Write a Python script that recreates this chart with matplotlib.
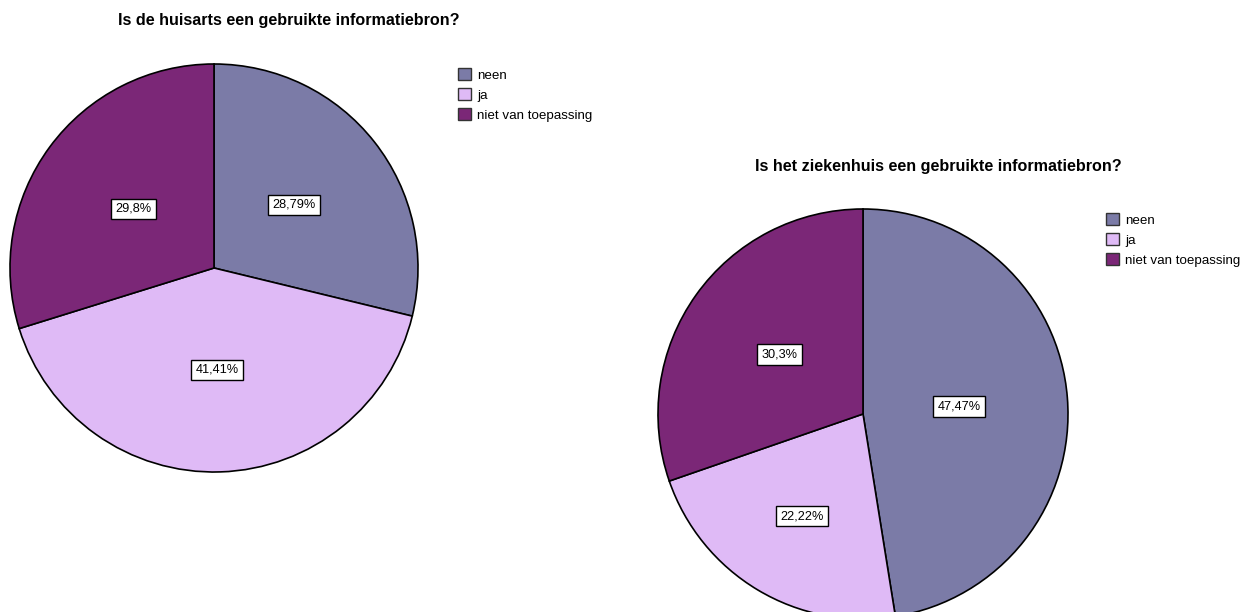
import numpy as np
import matplotlib.pyplot as plt
from matplotlib.patches import Patch

labels = ['neen', 'ja', 'niet van toepassing']
huisarts = [28.79, 41.41, 29.8]
ziekenhuis = [47.47, 22.22, 30.3]
huisarts_txt = ['28,79%', '41,41%', '29,8%']
ziekenhuis_txt = ['47,47%', '22,22%', '30,3%']
titles = ['Is de huisarts een gebruikte informatiebron?',
          'Is het ziekenhuis een gebruikte informatiebron?']

colors = ['#7b7ba7', '#dfbaf6', '#7b2777']

W, H = 1254, 612
plt.rcParams['font.family'] = ['Liberation Sans', 'DejaVu Sans']
fig = plt.figure(figsize=(W/100, H/100), dpi=100)


def px_axes(cx, cy, r):
    # axes box in pixel coords (y measured from top)
    return fig.add_axes([(cx - r)/W, (H - cy - r)/H, 2*r/W, 2*r/H])


def draw_pie(ax, vals, txts, dists):
    wedges, _ = ax.pie(vals, colors=colors, startangle=90, counterclock=False,
                       radius=1, wedgeprops=dict(edgecolor='black', linewidth=1.2))
    for w in wedges:
        w.set_clip_on(False)
    for w, t, d in zip(wedges, txts, dists):
        ang = np.deg2rad((w.theta1 + w.theta2) / 2)
        ax.text(d*np.cos(ang), d*np.sin(ang), t, ha='center', va='center', fontsize=9.2,
                bbox=dict(boxstyle='square,pad=0.33', fc='white', ec='black', lw=1))
    ax.set_xlim(-1, 1)
    ax.set_ylim(-1, 1)
    ax.axis('off')


ax1 = px_axes(214, 268, 204)
draw_pie(ax1, huisarts, huisarts_txt, [0.5, 0.5, 0.49])
ax2 = px_axes(863, 414, 205)
draw_pie(ax2, ziekenhuis, ziekenhuis_txt, [0.47, 0.58, 0.5])

fig.text(289/W, 1 - 20/H, titles[0], ha='center', va='center', fontsize=11.6, fontweight='bold')
fig.text(938/W, 1 - 167/H, titles[1], ha='center', va='center', fontsize=11.6, fontweight='bold')

handles = [Patch(facecolor=c, edgecolor='#333333', linewidth=1) for c in colors]
for x, y in [(458, 68), (1106, 213)]:
    fig.legend(handles, labels, loc='upper left', bbox_to_anchor=(x/W, 1 - y/H),
               frameon=False, fontsize=9.6, handlelength=1.0, handleheight=1.0,
               handletextpad=0.45, labelspacing=0.5, borderpad=0, borderaxespad=0)

fig.savefig('out.png', dpi=100)
